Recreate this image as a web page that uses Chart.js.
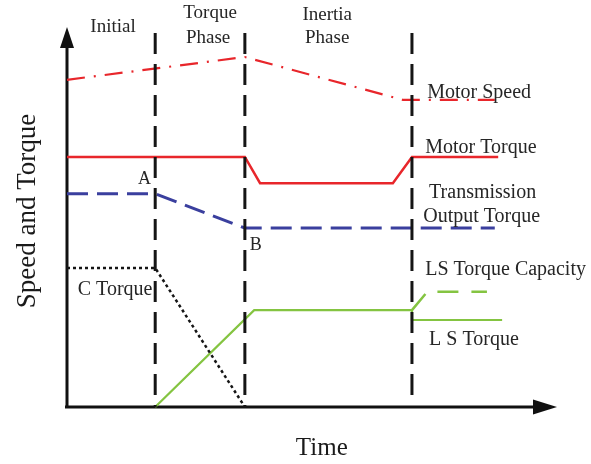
<!DOCTYPE html>
<html>
<head>
<meta charset="utf-8">
<script src="https://cdn.jsdelivr.net/npm/chart.js@4.4.1/dist/chart.umd.min.js"></script>
<style>
  html, body { margin: 0; padding: 0; background: #fff; }
  #wrap { width: 591px; height: 464px; }
</style>
</head>
<body>
<div id="wrap"><canvas id="shift" width="591" height="464"></canvas></div>
<script>
"use strict";

// time in arbitrary units (0-10), speed/torque normalised to 0-100
const phaseBounds = [1.80, 3.63, 7.04];
const phaseTop = [98.4, 98.4, 98.4];
const phaseBottom = [0, 0, 1.8];

const motorSpeedT = [0, 3.63, 6.86, 8.73];
const motorSpeedV = [86.1, 92.1, 80.8, 80.8];

const motorTorqueT = [0, 3.63, 3.94, 6.65, 7.04, 8.80];
const motorTorqueV = [65.8, 65.8, 58.9, 58.9, 65.8, 65.8];

const outTorqueT = [0, 1.80, 3.63, 8.73];
const outTorqueV = [56.1, 56.1, 47.1, 47.1];

const cTorqueT = [0, 1.80, 3.63];
const cTorqueV = [36.6, 36.6, 0];

const lsTorqueT = [1.80, 3.82, 7.04, 7.04, 8.88];
const lsTorqueV = [0, 25.5, 25.5, 22.9, 22.9];

const lsCapacityT = [7.04, 7.35, 8.57];
const lsCapacityV = [25.5, 30.3, 30.3];

// text placed in chart units: x = left edge (or centre), y = baseline
const notes = [
  { text: "Initial", x: 0.94, y: 98.7, align: "center", size: 19 },
  { text: "Torque", x: 2.92, y: 102.4, align: "center", size: 19 },
  { text: "Phase", x: 2.88, y: 95.8, align: "center", size: 19 },
  { text: "Inertia", x: 5.31, y: 101.8, align: "center", size: 19 },
  { text: "Phase", x: 5.31, y: 95.8, align: "center", size: 19 },
  { text: "Motor Speed", x: 7.35, y: 81.3, align: "left", size: 20 },
  { text: "Motor Torque", x: 7.31, y: 66.8, align: "left", size: 20 },
  { text: "Transmission", x: 7.39, y: 55.0, align: "left", size: 20 },
  { text: "Output Torque", x: 7.27, y: 48.7, align: "left", size: 20 },
  { text: "LS Torque Capacity", x: 7.31, y: 34.7, align: "left", size: 20 },
  { text: "L S Torque", x: 7.39, y: 16.3, align: "left", size: 20 },
  { text: "C Torque", x: 0.22, y: 29.5, align: "left", size: 20 },
  { text: "A", x: 1.45, y: 58.7, align: "left", size: 18 },
  { text: "B", x: 3.73, y: 41.3, align: "left", size: 18 }
];

const SERIF = '"Liberation Serif", "DejaVu Serif", serif';

function pts(t, v) {
  return t.map((x, i) => ({ x: x, y: v[i] }));
}

function line(data, color, width, dash) {
  return {
    data: data,
    showLine: true,
    borderColor: color,
    borderWidth: width,
    borderDash: dash || [],
    borderCapStyle: "butt",
    borderJoinStyle: "miter",
    pointRadius: 0,
    tension: 0,
    clip: false
  };
}

const phaseSets = phaseBounds.map((t, i) =>
  line([{ x: t, y: phaseTop[i] }, { x: t, y: phaseBottom[i] }], "#151515", 3, [21, 10])
);

// axes with arrow heads, plus the free text
const sketchPlugin = {
  id: "sketch",
  beforeDatasetsDraw(chart) {
    const { ctx, chartArea: a } = chart;
    ctx.save();
    ctx.strokeStyle = "#111";
    ctx.fillStyle = "#111";
    ctx.lineWidth = 3;
    ctx.beginPath();
    ctx.moveTo(a.left, a.bottom + 1);
    ctx.lineTo(a.left, a.top + 18);
    ctx.moveTo(a.left - 2, a.bottom);
    ctx.lineTo(a.right - 20, a.bottom);
    ctx.stroke();
    ctx.beginPath();
    ctx.moveTo(a.left, a.top);
    ctx.lineTo(a.left - 7, a.top + 21);
    ctx.lineTo(a.left + 7, a.top + 21);
    ctx.closePath();
    ctx.fill();
    ctx.beginPath();
    ctx.moveTo(a.right, a.bottom);
    ctx.lineTo(a.right - 24, a.bottom - 7.5);
    ctx.lineTo(a.right - 24, a.bottom + 7.5);
    ctx.closePath();
    ctx.fill();
    ctx.restore();
  },
  afterDatasetsDraw(chart) {
    const { ctx, scales: { x, y } } = chart;
    ctx.save();
    ctx.fillStyle = "#262626";
    ctx.textBaseline = "alphabetic";
    notes.forEach(n => {
      ctx.font = n.size + "px " + SERIF;
      ctx.textAlign = n.align;
      ctx.fillText(n.text, x.getPixelForValue(n.x), y.getPixelForValue(n.y));
    });
    // axis titles
    ctx.fillStyle = "#1a1a1a";
    ctx.font = "25px " + SERIF;
    ctx.textAlign = "center";
    ctx.fillText("Time", x.getPixelForValue(5.2), 455);
    ctx.translate(35, 211);
    ctx.rotate(-Math.PI / 2);
    ctx.font = "27px " + SERIF;
    ctx.fillText("Speed and Torque", 0, 0);
    ctx.restore();
  }
};

new Chart(document.getElementById("shift"), {
  type: "scatter",
  data: {
    datasets: [
      ...phaseSets,
      line(pts(motorSpeedT, motorSpeedV), "#e8262b", 2.2, [18, 9, 2, 9]),
      line(pts(motorTorqueT, motorTorqueV), "#e8262b", 2.5),
      line(pts(outTorqueT, outTorqueV), "#3a3f9e", 3, [21, 9]),
      line(pts(cTorqueT, cTorqueV), "#151515", 2.5, [3, 3]),
      line(pts(lsTorqueT, lsTorqueV), "#84c441", 2.2),
      line(pts(lsCapacityT, lsCapacityV), "#84c441", 2.5, [21, 13])
    ]
  },
  options: {
    responsive: false,
    animation: false,
    layout: { padding: { left: 67, top: 27, right: 34, bottom: 57 } },
    plugins: { legend: { display: false }, tooltip: { enabled: false } },
    scales: {
      x: { type: "linear", min: 0, max: 10, display: false },
      y: { type: "linear", min: 0, max: 100, display: false }
    }
  },
  plugins: [sketchPlugin]
});
</script>
</body>
</html>
